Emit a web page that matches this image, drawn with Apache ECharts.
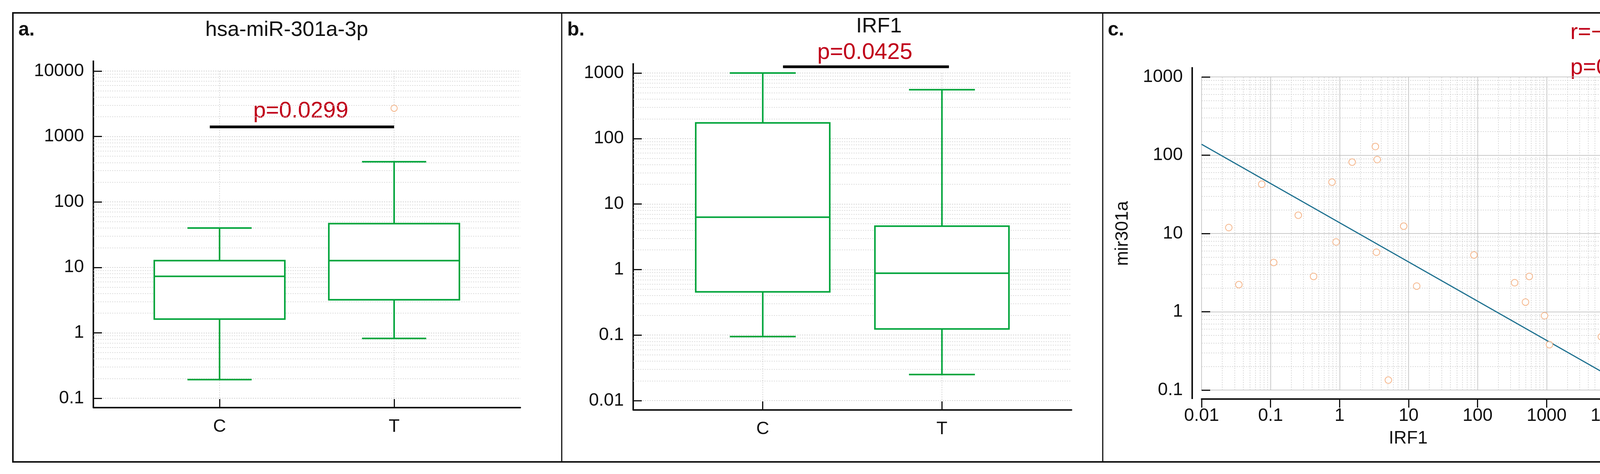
<!DOCTYPE html>
<html lang="en">
<head>
<meta charset="utf-8">
<script src="https://cdn.jsdelivr.net/npm/echarts@6/dist/echarts.min.js"></script>
<style>html,body{margin:0;background:#fff}#chart{width:4351px;height:1214px}</style>
</head>
<body>
<div id="chart"></div>
<script>
// box data: [x, min, q1, median, q3, max]
var groups = ['C', 'T'];
var boxA = [[1, 0.193, 1.62, 7.3, 12.7, 40], [2, 0.82, 3.2, 12.7, 46.6, 412]];
var outlierA = [[2, 2700]];
var boxB = [[1, 0.095, 0.457, 6.3, 173, 1000], [2, 0.025, 0.124, 0.88, 4.6, 557]];
var irf1 = [0.0248, 0.0347, 0.0745, 0.111, 0.252, 0.42, 0.776, 0.89, 1.52, 3.30, 3.51, 3.42, 5.09, 8.49, 13.1, 88.5, 344, 560, 494, 933, 1099, 6210];
var mir301a = [11.9, 2.22, 42.6, 4.26, 17.1, 2.83, 45.3, 7.8, 81.5, 129, 88, 5.77, 0.134, 12.4, 2.13, 5.32, 2.35, 2.83, 1.33, 0.89, 0.38, 0.48];
var fitLine = [[0.01, 138], [10000, 0.136]];
var pBarA = [[0.944, 1400], [2, 1400]];
var pBarB = [[1.113, 1245], [2.039, 1245]];

var GREEN = '#00A43A', RED = '#C0001A', FONT = 'Liberation Sans';
var pts = irf1.map(function (x, i) { return [x, mir301a[i]]; });

function minorLines(lo, hi, axis) {
  var out = [];
  for (var d = lo; d < hi; d *= 10) {
    for (var k = 2; k <= 9; k++) { var o = {}; o[axis] = +(d * k).toPrecision(3); out.push(o); }
  }
  return out;
}
function minorSeries(xi, lo, hi, axis, color) {
  return {
    type: 'line', xAxisIndex: xi, yAxisIndex: xi, data: [], silent: true,
    markLine: { silent: true, symbol: 'none', label: { show: false },
      lineStyle: { color: color || '#d4d4d4', type: [3, 3], width: 1.5 },
      data: minorLines(lo, hi, axis) }
  };
}
function boxRender(params, api) {
  var x = api.value(0);
  var hw = api.size([0.374, 0])[0], cw = api.size([0.184, 0])[0];
  var pMin = api.coord([x, api.value(1)]), pQ1 = api.coord([x, api.value(2)]);
  var pMed = api.coord([x, api.value(3)]), pQ3 = api.coord([x, api.value(4)]);
  var pMax = api.coord([x, api.value(5)]);
  var cx = pMin[0], st = { stroke: GREEN, lineWidth: 4, fill: null };
  var cs = params.coordSys;
  return { type: 'group', children: [
    { type: 'line', shape: { x1: cx, y1: cs.y, x2: cx, y2: cs.y + cs.height }, style: { stroke: '#ccc', lineWidth: 1.5, lineDash: [3, 3] } },
    { type: 'line', shape: { x1: cx, y1: pMax[1], x2: cx, y2: pQ3[1] }, style: st },
    { type: 'line', shape: { x1: cx, y1: pQ1[1], x2: cx, y2: pMin[1] }, style: st },
    { type: 'line', shape: { x1: cx - cw, y1: pMax[1], x2: cx + cw, y2: pMax[1] }, style: st },
    { type: 'line', shape: { x1: cx - cw, y1: pMin[1], x2: cx + cw, y2: pMin[1] }, style: st },
    { type: 'rect', shape: { x: cx - hw, y: pQ3[1], width: 2 * hw, height: pQ1[1] - pQ3[1] }, style: { stroke: GREEN, lineWidth: 4, fill: '#fff' } },
    { type: 'line', shape: { x1: cx - hw, y1: pMed[1], x2: cx + hw, y2: pMed[1] }, style: st }
  ]};
}
var lbl = { fontFamily: FONT, fontSize: 46, color: '#111' };
function catX(i, left, width) {
  return {
    gridIndex: i, type: 'value', min: 0.277, max: 2.723, offset: 24,
    axisLine: { lineStyle: { color: '#111', width: 4 } },
    axisTick: { inside: true, length: 22, customValues: [1, 2], lineStyle: { color: '#111', width: 3 } },
    axisLabel: Object.assign({ customValues: [1, 2], margin: 26, formatter: function (v) { return groups[Math.round(v) - 1]; } }, lbl),
    splitLine: { show: false }
  };
}
function logY(i, min, max, offset) {
  return {
    gridIndex: i, type: 'log', logBase: 10, min: min, max: max,
    axisLine: { show: false },
    axisTick: { inside: true, length: 22, lineStyle: { color: '#111', width: 3 } },
    axisLabel: Object.assign({ margin: 24 + (offset || 0), formatter: function (v) { return String(+v.toPrecision(3)); } }, lbl),
    splitLine: { show: true, lineStyle: { color: '#c8c8c8', type: [3, 3], width: 1.5 } }
  };
}

var chart = echarts.init(document.getElementById('chart'));
chart.setOption({
  animation: false,
  grid: [
    { left: 239, top: 182, width: 1093, height: 838 },
    { left: 1621, top: 187, width: 1122, height: 839 },
    { left: 3076, top: 197, width: 1060, height: 802 }
  ],
  xAxis: [
    catX(0), catX(1),
    { gridIndex: 2, type: 'log', min: 0.01, max: 10000, offset: 23,
      axisLine: { lineStyle: { color: '#111', width: 4 } },
      axisTick: { length: 22, lineStyle: { color: '#111', width: 3 } },
      axisLabel: Object.assign({ margin: 20, formatter: function (v) { return String(+v.toPrecision(3)); } }, lbl),
      splitLine: { show: true, lineStyle: { color: '#b8b8b8', width: 1.5 } } }
  ],
  yAxis: [
    logY(0, 0.1, 10000), logY(1, 0.01, 1000),
    Object.assign(logY(2, 0.1, 1000, 24), { splitLine: { show: true, lineStyle: { color: '#b8b8b8', width: 1.5 } } })
  ],
  series: [
    minorSeries(0, 0.1, 10000, 'yAxis'),
    minorSeries(1, 0.01, 1000, 'yAxis'),
    minorSeries(2, 0.1, 1000, 'yAxis', '#d0d0d0'),
    minorSeries(2, 0.01, 10000, 'xAxis', '#d0d0d0'),
    { type: 'custom', xAxisIndex: 0, yAxisIndex: 0, renderItem: boxRender, data: boxA, encode: { x: 0, y: [1, 5] }, z: 5 },
    { type: 'custom', xAxisIndex: 1, yAxisIndex: 1, renderItem: boxRender, data: boxB, encode: { x: 0, y: [1, 5] }, z: 5 },
    { type: 'scatter', xAxisIndex: 0, yAxisIndex: 0, data: outlierA, symbol: 'emptyCircle', symbolSize: 16,
      itemStyle: { color: '#F3A26C', borderWidth: 2 }, z: 6 },
    { type: 'line', xAxisIndex: 0, yAxisIndex: 0, data: pBarA, symbol: 'none', clip: false,
      lineStyle: { color: '#000', width: 7 }, z: 6 },
    { type: 'line', xAxisIndex: 1, yAxisIndex: 1, data: pBarB, symbol: 'none', clip: false,
      lineStyle: { color: '#000', width: 7 }, z: 6 },
    { type: 'line', xAxisIndex: 2, yAxisIndex: 2, data: fitLine, symbol: 'none',
      lineStyle: { color: '#1B6F8E', width: 3 }, z: 5 },
    { type: 'scatter', xAxisIndex: 2, yAxisIndex: 2, data: pts, symbol: 'emptyCircle', symbolSize: 17,
      itemStyle: { color: '#F3A26C', borderWidth: 2 }, z: 6 }
  ],
  graphic: [
    { type: 'rect', shape: { x: 33, y: 33, width: 4285, height: 1150 }, style: { fill: null, stroke: '#111', lineWidth: 4 } },
    { type: 'line', shape: { x1: 1438, y1: 33, x2: 1438, y2: 1183 }, style: { stroke: '#111', lineWidth: 3 } },
    { type: 'line', shape: { x1: 2823, y1: 33, x2: 2823, y2: 1183 }, style: { stroke: '#111', lineWidth: 3 } },
    // y axis lines
    { type: 'line', shape: { x1: 239, y1: 155, x2: 239, y2: 1044 }, style: { stroke: '#111', lineWidth: 4 } },
    { type: 'line', shape: { x1: 1621, y1: 162, x2: 1621, y2: 1050 }, style: { stroke: '#111', lineWidth: 4 } },
    { type: 'line', shape: { x1: 3052, y1: 172, x2: 3052, y2: 1022 }, style: { stroke: '#111', lineWidth: 4 } },
    // panel letters and titles
    { type: 'text', x: 47, y: 77, style: { text: 'a.', font: 'bold 50px ' + FONT, fill: '#111', verticalAlign: 'middle' } },
    { type: 'text', x: 1452, y: 77, style: { text: 'b.', font: 'bold 50px ' + FONT, fill: '#111', verticalAlign: 'middle' } },
    { type: 'text', x: 2836, y: 77, style: { text: 'c.', font: 'bold 50px ' + FONT, fill: '#111', verticalAlign: 'middle' } },
    { type: 'text', x: 734, y: 77, style: { text: 'hsa-miR-301a-3p', font: '54px ' + FONT, fill: '#111', align: 'center', verticalAlign: 'middle' } },
    { type: 'text', x: 2250, y: 68, style: { text: 'IRF1', font: '54px ' + FONT, fill: '#111', align: 'center', verticalAlign: 'middle' } },
    { type: 'text', x: 770, y: 285, style: { text: 'p=0.0299', font: '58px ' + FONT, fill: RED, align: 'center', verticalAlign: 'middle' } },
    { type: 'text', x: 2214, y: 135, style: { text: 'p=0.0425', font: '58px ' + FONT, fill: RED, align: 'center', verticalAlign: 'middle' } },
    { type: 'text', x: 4020, y: 84, style: { text: 'r=\u22120.557', font: '58px ' + FONT, fill: RED, verticalAlign: 'middle' } },
    { type: 'text', x: 4020, y: 174, style: { text: 'p=0.007', font: '58px ' + FONT, fill: RED, verticalAlign: 'middle' } },
    { type: 'text', x: 3605, y: 1123, style: { text: 'IRF1', font: '46px ' + FONT, fill: '#111', align: 'center', verticalAlign: 'middle' } },
    { type: 'text', x: 2874, y: 598, rotation: Math.PI / 2, style: { text: 'mir301a', font: '46px ' + FONT, fill: '#111', align: 'center', verticalAlign: 'middle' } }
  ]
});
</script>
</body>
</html>
